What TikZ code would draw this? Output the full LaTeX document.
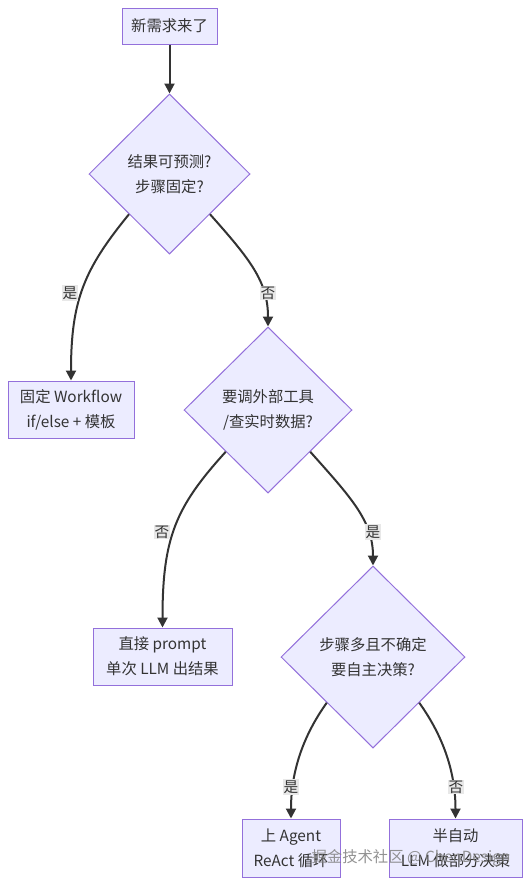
\documentclass[tikz,border=0pt]{standalone}
\usepackage{fontspec}
\newfontfamily\cjk{Noto Sans CJK SC}
\usetikzlibrary{shapes.geometric,arrows.meta}
\definecolor{nodefill}{HTML}{ECECFF}
\definecolor{nodeline}{HTML}{9370DB}
\definecolor{edgecol}{HTML}{333333}
\definecolor{labbg}{HTML}{E8E8E8}
\begin{document}
\begin{tikzpicture}[x=0.75pt,y=-0.75pt,
  every node/.style={font=\cjk\fontsize{11.5}{18.75}\selectfont, text=edgecol},
  box/.style={draw=nodeline, fill=nodefill, line width=0.75pt, inner sep=0pt, align=center},
  dia/.style={diamond, draw=nodeline, fill=nodefill, line width=0.75pt, inner sep=0pt, align=center},
  edge/.style={draw=edgecol, line width=1.5pt, -{Triangle[length=7.5pt,width=7.5pt]}},
  lab/.style={fill=labbg, inner sep=0.8pt, font=\cjk\fontsize{11}{12}\selectfont}
]
\useasboundingbox[fill=white] (0,0) rectangle (530,885);

\node[box, minimum width=71.25pt, minimum height=27pt] (b1) at (169.5,26) {新需求来了};
\node[dia, minimum width=120.75pt, minimum height=120pt] (d1) at (169.5,174) {结果可预测?\\步骤固定?};
\node[box, minimum width=94.5pt, minimum height=42.75pt] (b2) at (71,409.5) {固定 Workflow\\if/else + 模板};
\node[dia, minimum width=126pt, minimum height=124.5pt] (d2) at (268,410) {要调外部工具\\/查实时数据?};
\node[box, minimum width=104.25pt, minimum height=42.75pt] (b3) at (162.5,656.5) {直接 prompt\\单次 LLM 出结果};
\node[dia, minimum width=138pt, minimum height=136.5pt] (d3) at (373,657) {步骤多且不确定\\要自主决策?};
\node[box, minimum width=73.5pt, minimum height=43.5pt] (b4) at (291,848) {上 Agent\\ReAct 循环};
\node[box, minimum width=99.75pt, minimum height=43.5pt] (b5) at (455.5,848) {半自动\\LLM 做部分决策};

\draw[edge] (b1.south) -- (d1.north);
\draw[edge] (d1.south west) .. controls +(-45,55) and +(0,-80) .. (b2.north);
\draw[edge] (d1.south east) .. controls +(40,45) and +(0,-45) .. (d2.north);
\draw[edge] (d2.south west) .. controls +(-50,55) and +(0,-90) .. (b3.north);
\draw[edge] (d2.south east) .. controls +(40,45) and +(0,-45) .. (d3.north);
\draw[edge] (d3.south west) .. controls +(-25,35) and +(0,-45) .. (b4.north);
\draw[edge] (d3.south east) .. controls +(25,35) and +(0,-45) .. (b5.north);

\node[lab] (l1) at (70,293) {是};
\node[lab] (l2) at (268,293) {否};
\node[lab] (l3) at (162,532) {否};
\node[lab] (l4) at (373,532) {是};
\node[lab] (l5) at (291,787) {是};
\node[lab] (l6) at (456,787) {否};

\node[font=\cjk\fontsize{11.5}{12}\selectfont, text=gray, opacity=0.85] (wm) at (411,858) {掘金技术社区 @ ChenDesign};
\end{tikzpicture}
\end{document}
